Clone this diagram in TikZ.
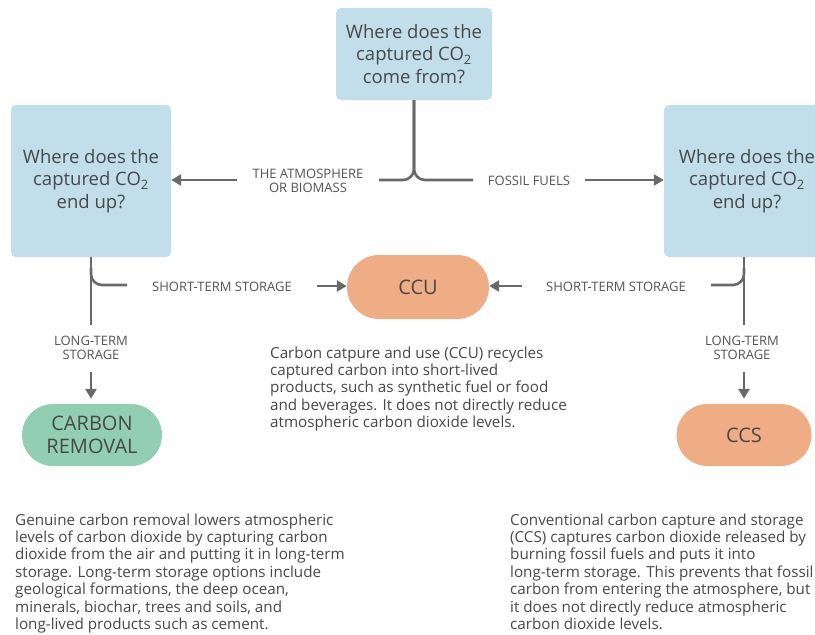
\documentclass[tikz,border=0pt]{standalone}
\usepackage{fontspec}
\setmainfont{Open Sans}
\usetikzlibrary{arrows.meta,shapes.misc}
\definecolor{qblue}{RGB}{193,222,234}
\definecolor{corange}{RGB}{238,173,133}
\definecolor{cgreen}{RGB}{146,206,177}
\definecolor{ink}{RGB}{72,72,72}
\definecolor{labink}{RGB}{84,84,84}
\definecolor{wire}{RGB}{105,105,105}
\tikzset{
  qbox/.style={fill=qblue, rounded corners=5pt, align=center, text=ink,
    font=\fontsize{18.5}{22.5}\selectfont, inner sep=0pt},
  pill/.style={rounded rectangle, align=center, text=ink,
    font=\fontsize{20}{22.5}\selectfont, inner sep=0pt},
  conn/.style={draw=wire, line width=2.6pt},
  arr/.style={conn, -{Triangle[length=10pt,width=11pt]}},
  lbl/.style={align=center, text=labink, font=\fontsize{13}{14}\selectfont, inner sep=0pt},
  desc/.style={align=left, text=ink, anchor=base west, inner sep=0pt,
    font=\fontsize{15.2}{17.4}\selectfont},
}
\begin{document}
\begin{tikzpicture}[x=1pt,y=-1pt]
\useasboundingbox (0,0) rectangle (815,635);
\clip (0,0) rectangle (815,635);
\fill[white] (0,0) rectangle (815,635);

% question boxes
\node[qbox, minimum width=156pt, minimum height=92pt] (src) at (414,54)
  {Where does the\\captured CO\textsubscript{2}\\come from?};
\node[qbox, minimum width=160pt, minimum height=152pt] (endL) at (91,181)
  {Where does the\\captured CO\textsubscript{2}\\end up?};
\node[qbox, minimum width=166pt, minimum height=152pt] (endR) at (747,181)
  {Where does the\\captured CO\textsubscript{2}\\end up?};

% outcome pills
\node[pill, fill=corange, minimum width=142pt, minimum height=64pt] (ccu) at (418,287) {CCU};
\node[pill, fill=cgreen, minimum width=140pt, minimum height=62pt] (removal) at (92,435) {CARBON\\REMOVAL};
\node[pill, fill=corange, minimum width=135pt, minimum height=62pt] (ccs) at (744,435) {CCS};

% source labels
\node[lbl] (atm) at (308,181) {THE ATMOSPHERE\\OR BIOMASS};
\node[lbl] (fossil) at (529,181) {FOSSIL FUELS};

% storage labels
\node[lbl] (shortL) at (222,287) {SHORT-TERM STORAGE};
\node[lbl] (shortR) at (616,287) {SHORT-TERM STORAGE};
\node[lbl] (longL) at (91,348) {LONG-TERM\\STORAGE};
\node[lbl] (longR) at (742,348) {LONG-TERM\\STORAGE};

% fork under the source question
\coordinate (forkL) at (379,180);
\coordinate (forkR) at (473,180);
\draw[conn, rounded corners=11pt] (src.south) -- (414,180) -- (forkL);
\draw[conn, rounded corners=11pt] (src.south) -- (414,180) -- (forkR);
\coordinate (atmTail) at (237,180);
\coordinate (fosTail) at (585,180);
\draw[arr] (atmTail) -- (endL.east |- atmTail);
\draw[arr] (fosTail) -- (endR.west |- fosTail);

% left storage fork
\coordinate (stemL) at (91,325);
\coordinate (branchL) at (127,285);
\draw[conn] (endL.south) -- (stemL);
\draw[conn, rounded corners=11pt] (91,268) -- (91,285) -- (branchL);
\coordinate (shortLTail) at (317,286);
\draw[arr] (shortLTail) -- (ccu.west |- shortLTail);
\coordinate (longLTail) at (91,372);
\draw[arr, shorten >=5pt] (longLTail) -- (removal.north -| longLTail);

% right storage fork
\coordinate (stemR) at (744,325);
\coordinate (branchR) at (711,285);
\draw[conn] (endR.south -| stemR) -- (stemR);
\draw[conn, rounded corners=11pt] (744,268) -- (744,285) -- (branchR);
\coordinate (shortRTail) at (522,286);
\draw[arr] (shortRTail) -- (ccu.east |- shortRTail);
\coordinate (longRTail) at (744,372);
\draw[arr, shorten >=5pt] (longRTail) -- (ccs.north);

% explanations (anchored at the baseline of their last line)
\node[desc] (ccuText) at (270,427.6)
  {Carbon catpure and use (CCU) recycles\\
   captured carbon into short-lived\\
   products, such as synthetic fuel or food\\
   and beverages. It does not directly reduce\\
   atmospheric carbon dioxide levels.};
\node[desc] (removalText) at (15,629.4)
  {Genuine carbon removal lowers atmospheric\\
   levels of carbon dioxide by capturing carbon\\
   dioxide from the air and putting it in long-term\\
   storage. Long-term storage options include\\
   geological formations, the deep ocean,\\
   minerals, biochar, trees and soils, and\\
   long-lived products such as cement.};
\node[desc] (ccsText) at (510,629.4)
  {Conventional carbon capture and storage\\
   (CCS) captures carbon dioxide released by\\
   burning fossil fuels and puts it into\\
   long-term storage. This prevents that fossil\\
   carbon from entering the atmosphere, but\\
   it does not directly reduce atmospheric\\
   carbon dioxide levels.};
\end{tikzpicture}
\end{document}
